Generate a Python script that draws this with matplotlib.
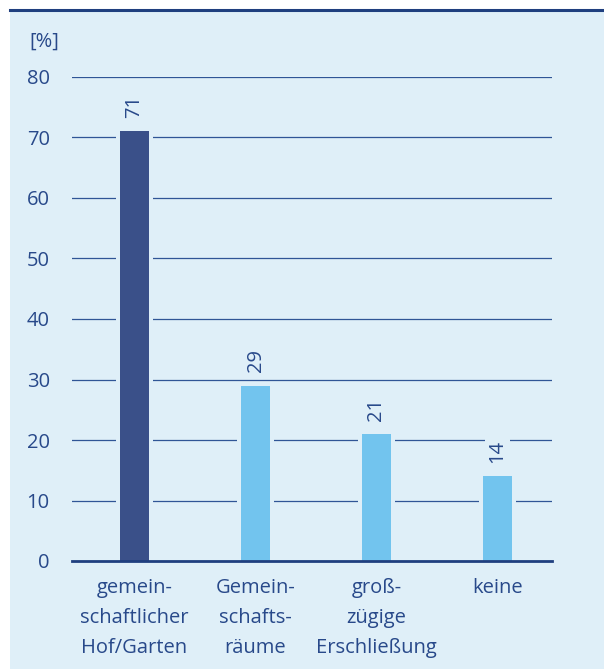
import matplotlib.pyplot as plt
from matplotlib.patches import Rectangle
from matplotlib.lines import Line2D

categories = ["gemein-\nschaftlicher\nHof/Garten", "Gemein-\nschafts-\nräume",
              "groß-\nzügige\nErschließung", "keine"]
values = [71, 29, 21, 14]
yticks = [0, 10, 20, 30, 40, 50, 60, 70, 80]

bg = "#dfeff8"
dark = "#3a5089"
light = "#72c4ee"
grid_c = "#2f5596"
text_c = "#28498a"

plt.rcParams['font.family'] = ['Open Sans', 'DejaVu Sans']
fs = 14.5

fig = plt.figure(figsize=(6.04, 6.69), dpi=100)
W, H = 604, 669
bgrect = Rectangle((10 / W, 0), 1, 1 - 10 / H, transform=fig.transFigure,
                   facecolor=bg, edgecolor="none", zorder=-10)
fig.add_artist(bgrect)
fig.add_artist(Line2D([10 / W, 1], [1 - 10 / H, 1 - 10 / H], color="#1f3f7f", lw=2.2))

ax = fig.add_axes([72 / W, 1 - 561 / H, 480 / W, (561 - 77) / H])
ax.set_zorder(5)
ax.set_facecolor("none")
ax.set_ylim(0, 80)
ax.set_xlim(-62.5 / 121, 3 + 54.5 / 121)

for t in yticks[1:]:
    ax.axhline(t, color=grid_c, lw=0.9, zorder=1)
ax.axhline(0, color="#1f3f7f", lw=2.0, zorder=5, clip_on=False)

x = list(range(len(values)))
colors = [dark, light, light, light]
ax.bar(x, [v + 0.4 for v in values], width=37 / 121, color=bg, zorder=2)
ax.bar(x, values, width=29 / 121, color=colors, zorder=3)

for xi, v in zip(x, values):
    ax.text(xi, v + 2.2, str(v), rotation=90, ha="center", va="bottom",
            fontsize=fs, color=text_c, zorder=4,
            bbox=dict(facecolor=bg, edgecolor="none", pad=2))

for s in ax.spines.values():
    s.set_visible(False)
ax.set_yticks(yticks)
ax.set_yticklabels([str(t) for t in yticks], fontsize=fs, color=text_c)
ax.tick_params(axis="y", length=0, pad=16)
ax.set_xticks(x)
ax.set_xticklabels(categories, fontsize=fs, color=text_c, linespacing=1.68)
ax.tick_params(axis="x", length=0, pad=12)

fig.text(29 / W, 1 - 42 / H, "[%]", fontsize=fs, color=text_c, va="center", ha="left")

fig.savefig("out.png", dpi=100, facecolor="white")
